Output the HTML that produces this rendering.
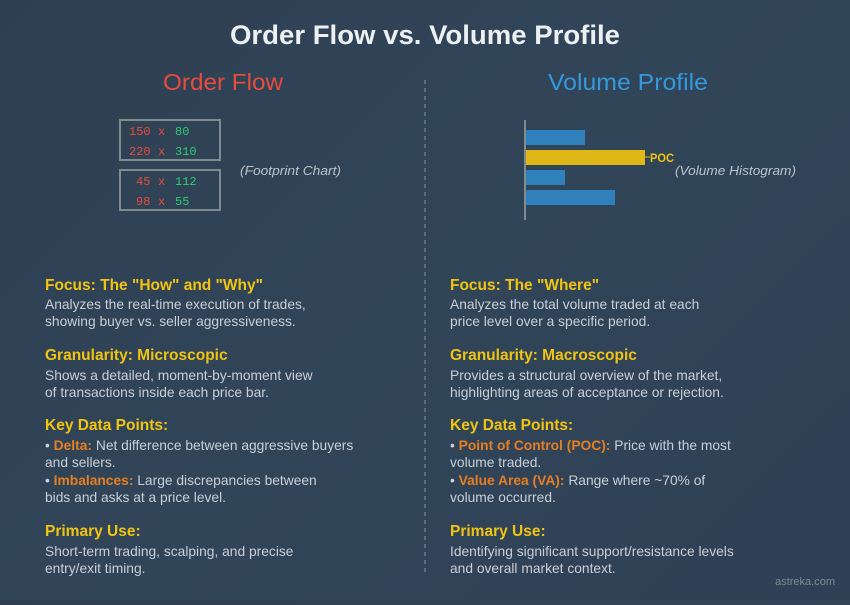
<!DOCTYPE html>
<html><head><meta charset="utf-8"><style>
html,body{margin:0;padding:0}
body{width:850px;height:600px;overflow:hidden;background:linear-gradient(135deg,#2f3f52 0%,#314559 50%,#2e4055 100%);font-family:"Liberation Sans",sans-serif}
</style></head><body>
<svg width="850" height="600" xmlns="http://www.w3.org/2000/svg" font-family="Liberation Sans, sans-serif">
<text x="425" y="44" text-anchor="middle" fill="#ecf0f1" font-size="27" font-weight="bold" textLength="390" lengthAdjust="spacingAndGlyphs">Order Flow vs. Volume Profile</text>
<text x="223" y="90" text-anchor="middle" fill="#e74c3c" font-size="23" textLength="120" lengthAdjust="spacingAndGlyphs">Order Flow</text>
<text x="628" y="90" text-anchor="middle" fill="#3498db" font-size="23" textLength="160" lengthAdjust="spacingAndGlyphs">Volume Profile</text>
<line x1="425" y1="80" x2="425" y2="572" stroke="#6c7a89" stroke-width="1.5" stroke-dasharray="4,4"/>
<rect x="120" y="120" width="100" height="40" fill="none" stroke="#7f8c8d" stroke-width="2"/>
<rect x="120" y="170" width="100" height="40" fill="none" stroke="#7f8c8d" stroke-width="2"/>
<g font-family="Liberation Mono, monospace" font-size="12">
<text x="129" y="135" fill="#e74c3c">150</text><text x="158" y="135" fill="#e74c3c">x</text><text x="175" y="135" fill="#2ecc71">80</text>
<text x="129" y="155" fill="#e74c3c">220</text><text x="158" y="155" fill="#e74c3c">x</text><text x="175" y="155" fill="#2ecc71">310</text>
<text x="136" y="185" fill="#e74c3c">45</text><text x="158" y="185" fill="#e74c3c">x</text><text x="175" y="185" fill="#2ecc71">112</text>
<text x="136" y="205" fill="#e74c3c">98</text><text x="158" y="205" fill="#e74c3c">x</text><text x="175" y="205" fill="#2ecc71">55</text>
</g>
<text x="240" y="175" fill="#bdc3c7" font-size="13" font-style="italic" textLength="101" lengthAdjust="spacingAndGlyphs">(Footprint Chart)</text>
<line x1="525" y1="120" x2="525" y2="220" stroke="#7f8c8d" stroke-width="2"/>
<rect x="526" y="130" width="59" height="15" fill="#3080bb"/>
<rect x="526" y="150" width="119" height="15" fill="#dfb716"/>
<rect x="526" y="170" width="39" height="15" fill="#3080bb"/>
<rect x="526" y="190" width="89" height="15" fill="#3080bb"/>
<line x1="645" y1="157" x2="650" y2="157" stroke="#dfb716" stroke-width="1"/>
<text x="650" y="162" fill="#f1c40f" font-size="12" font-weight="bold" textLength="24" lengthAdjust="spacingAndGlyphs">POC</text>
<text x="675" y="175" fill="#bdc3c7" font-size="13" font-style="italic" textLength="121" lengthAdjust="spacingAndGlyphs">(Volume Histogram)</text>
<g font-size="13.8" fill="#c8cfd6">
<g font-weight="bold" fill="#f1c40f" font-size="15.5">
<text x="45" y="290">Focus: The "How" and "Why"</text>
<text x="45" y="360">Granularity: Microscopic</text>
<text x="45" y="430">Key Data Points:</text>
<text x="45" y="536">Primary Use:</text>
<text x="450" y="290">Focus: The "Where"</text>
<text x="450" y="360">Granularity: Macroscopic</text>
<text x="450" y="430">Key Data Points:</text>
<text x="450" y="536">Primary Use:</text>
</g>
<text x="45" y="309">Analyzes the real-time execution of trades,</text>
<text x="45" y="326">showing buyer vs. seller aggressiveness.</text>
<text x="45" y="380">Shows a detailed, moment-by-moment view</text>
<text x="45" y="397">of transactions inside each price bar.</text>
<text x="45" y="450">• <tspan fill="#e67e22" font-weight="bold">Delta:</tspan> Net difference between aggressive buyers</text>
<text x="45" y="467">and sellers.</text>
<text x="45" y="485">• <tspan fill="#e67e22" font-weight="bold">Imbalances:</tspan> Large discrepancies between</text>
<text x="45" y="502">bids and asks at a price level.</text>
<text x="45" y="556">Short-term trading, scalping, and precise</text>
<text x="45" y="573">entry/exit timing.</text>
<text x="450" y="309">Analyzes the total volume traded at each</text>
<text x="450" y="326">price level over a specific period.</text>
<text x="450" y="380">Provides a structural overview of the market,</text>
<text x="450" y="397">highlighting areas of acceptance or rejection.</text>
<text x="450" y="450">• <tspan fill="#e67e22" font-weight="bold">Point of Control (POC):</tspan> Price with the most</text>
<text x="450" y="467">volume traded.</text>
<text x="450" y="485">• <tspan fill="#e67e22" font-weight="bold">Value Area (VA):</tspan> Range where ~70% of</text>
<text x="450" y="502">volume occurred.</text>
<text x="450" y="556">Identifying significant support/resistance levels</text>
<text x="450" y="573">and overall market context.</text>
</g>
<text x="835" y="585" text-anchor="end" fill="#7f8c8d" font-size="11">astreka.com</text>
</svg>
</body></html>
